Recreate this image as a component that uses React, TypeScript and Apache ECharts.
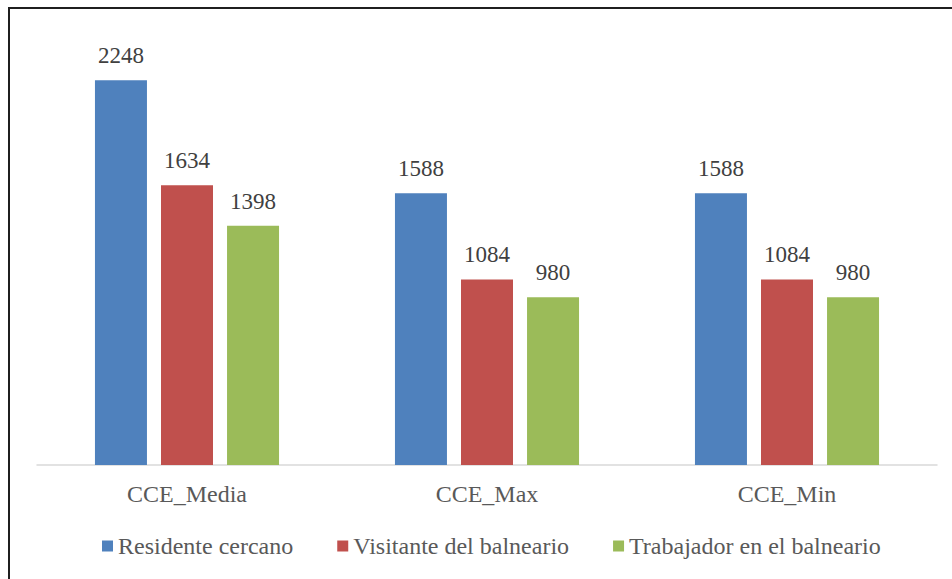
import React, { useEffect, useRef } from "react";
import * as echarts from "echarts";

const categories = ["CCE_Media", "CCE_Max", "CCE_Min"];
const seriesNames = ["Residente cercano", "Visitante del balneario", "Trabajador en el balneario"];
const residente = [2248, 1588, 1588];
const visitante = [1634, 1084, 1084];
const trabajador = [1398, 980, 980];
const colors = ["#4F81BD", "#C0504D", "#9BBB59"];

export default function App() {
  const ref = useRef<HTMLDivElement>(null);
  useEffect(() => {
    if (!ref.current) return;
    const chart = echarts.init(ref.current, undefined, { renderer: "svg" });
    const font = "Liberation Serif";
    const values = [residente, visitante, trabajador];
    chart.setOption({
      animation: false,
      backgroundColor: "#ffffff",
      textStyle: { fontFamily: font },
      grid: { left: 37, right: 15, top: 37, bottom: 114, containLabel: false },
      xAxis: {
        type: "category",
        data: categories,
        axisLine: { lineStyle: { color: "#D9D9D9", width: 1.5 } },
        axisTick: { show: false },
        axisLabel: { color: "#595959", fontSize: 24, fontFamily: font, margin: 17 },
      },
      yAxis: { type: "value", min: 0, max: 2500, show: false, splitLine: { show: false } },
      legend: {
        top: 534,
        left: 102,
        padding: 0,
        itemWidth: 11,
        itemHeight: 11,
        itemGap: 44,
        icon: "rect",
        textStyle: { color: "#595959", fontSize: 24, fontFamily: font },
        data: seriesNames,
      },
      graphic: [
        {
          type: "polyline",
          shape: { points: [[9, 600], [9, 8], [960, 8]] },
          style: { stroke: "#1f1f1f", lineWidth: 2, fill: "none" },
        },
      ],
      series: seriesNames.map((name, i) => ({
        name,
        type: "bar",
        data: values[i],
        barWidth: 52,
        barGap: "27%",
        itemStyle: { color: colors[i] },
        label: {
          show: true,
          position: "top",
          distance: 13,
          color: "#404040",
          fontSize: 23,
          fontFamily: font,
        },
      })),
    });
    return () => chart.dispose();
  }, []);
  return (
    <div
      ref={ref}
      style={{ position: "fixed", left: 0, top: 0, width: 952, height: 579 }}
    />
  );
}
